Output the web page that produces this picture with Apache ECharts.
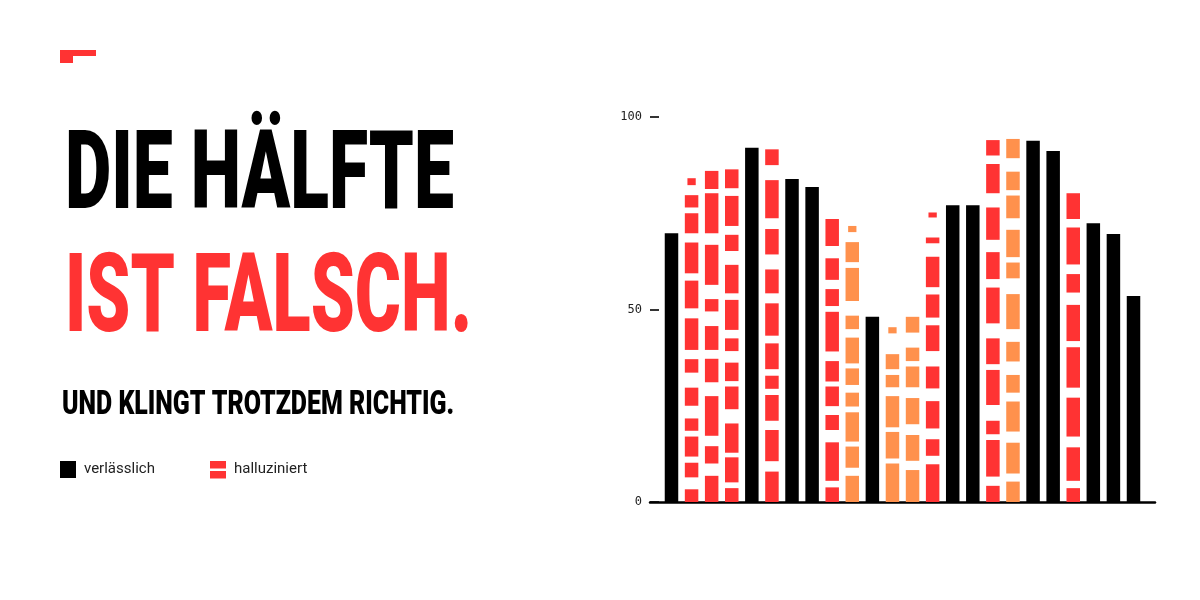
<!DOCTYPE html>
<html>
<head>
<meta charset="utf-8">
<script src="https://cdn.jsdelivr.net/npm/echarts@6/dist/echarts.min.js"></script>
<style>
html,body{margin:0;padding:0;background:#fff;}
#chart{width:1200px;height:600px;}
</style>
</head>
<body>
<div id="chart"></div>
<script>
// ---- data ----
const columnKinds = ['reliable','red','red','red','reliable','red','reliable','reliable','red','orange','reliable','orange','orange','red','reliable','reliable','red','orange','reliable','reliable','red','reliable','reliable','reliable'];
const reliableValues = [69.8, null, null, null, 92.0, null, 83.9, 81.8, null, null, 48.1, null, null, null, 77.1, 77.1, null, null, 93.8, 91.2, null, 72.4, 69.6, 53.5];

const seg1  = [[0,3.3],[6.4,10.2],[11.8,17.0],[18.5,21.7],[25.0,29.7],[33.6,37.1],[39.5,47.7],[50.3,57.5],[59.4,67.4],[69.8,75.0],[76.5,79.7],[82.3,84.1]];
const seg2  = [[0,6.8],[10.0,14.5],[17.2,27.5],[31.1,37.2],[39.5,45.7],[49.5,52.7],[56.4,66.8],[69.8,80.2],[81.3,86.0]];
const seg3  = [[0,3.6],[5.1,11.6],[12.8,20.4],[24.1,30.0],[31.4,36.2],[39.2,42.5],[44.7,52.5],[54.2,61.6],[65.2,69.4],[71.7,79.5],[81.5,86.4]];
const seg5  = [[0,7.9],[10.6,18.7],[21.1,27.8],[29.4,32.8],[34.5,41.2],[43.2,51.6],[54.2,60.4],[64.3,70.9],[73.7,83.6],[87.5,91.6]];
const seg8  = [[0,3.8],[5.5,15.5],[18.7,22.6],[24.9,30.0],[31.3,36.6],[39.1,49.4],[50.9,55.3],[57.7,63.3],[66.5,73.5]];
const seg9  = [[0,6.8],[8.9,14.4],[15.7,23.3],[24.8,28.4],[30.4,34.7],[36.0,42.7],[44.9,48.4],[52.2,60.8],[62.3,67.5],[70.1,71.7]];
const seg11 = [[0,10.0],[11.3,18.2],[19.4,27.5],[29.8,33.0],[34.5,38.4],[43.8,45.4]];
const seg12 = [[0,8.3],[10.7,17.4],[20.2,27.0],[29.8,35.2],[36.6,40.1],[44.0,48.1]];
const seg13 = [[0,9.8],[12.0,16.3],[19.1,26.2],[29.5,35.2],[39.2,45.9],[47.9,53.9],[55.8,63.7],[67.2,68.7],[73.9,75.2]];
const seg16 = [[0,4.2],[6.6,16.1],[17.6,21.1],[25.2,34.3],[35.8,42.5],[46.4,55.7],[57.9,64.9],[68.1,76.5],[80.2,87.8],[90.0,94.0]];
const seg17 = [[0,5.3],[7.4,15.4],[18.3,26.1],[28.4,33.0],[36.5,41.6],[44.9,54.0],[58.1,62.2],[63.6,70.7],[73.7,79.6],[81.0,85.8],[89.3,94.3]];
const seg20 = [[0,3.6],[5.5,14.2],[17.0,27.1],[29.7,40.2],[41.8,51.2],[54.4,59.2],[61.7,71.3],[73.5,80.2]];

const yTicks = [0, 50, 100];
const legendLabels = ['verlässlich', 'halluziniert'];
const titleLine1 = 'DIE HÄLFTE';
const titleLine2 = 'IST FALSCH.';
const subtitle = 'UND KLINGT TROTZDEM RICHTIG.';

// ---- build ----
const segmentColumns = {1: seg1, 2: seg2, 3: seg3, 5: seg5, 8: seg8, 9: seg9, 11: seg11, 12: seg12, 13: seg13, 16: seg16, 17: seg17, 20: seg20};
const RED = '#ff3333', ORANGE = '#ff914d', BLACK = '#000000';

const reliableData = [];
reliableValues.forEach((v, i) => { if (v != null) reliableData.push([i, v]); });

const segmentData = [];
Object.keys(segmentColumns).forEach(k => {
  const i = +k;
  const segs = segmentColumns[k];
  segs.forEach((s, j) => {
    segmentData.push([i, s[0], s[1], columnKinds[i] === 'orange' ? 1 : 0, j === segs.length - 1 ? 1 : 0]);
  });
});

const BAR_W = 13.5;

const chart = echarts.init(document.getElementById('chart'), null, {renderer: 'canvas'});
const option = {
  backgroundColor: '#ffffff',
  animation: false,
  grid: {left: 650, right: 45, top: 117, bottom: 98, containLabel: false, outerBoundsMode: 'none'},
  xAxis: {
    type: 'value', min: -1.07, max: 24.07,
    axisLine: {show: true, onZero: false, lineStyle: {color: '#000', width: 2.5}},
    axisTick: {show: false}, axisLabel: {show: false}, splitLine: {show: false}
  },
  yAxis: {
    type: 'value', min: 0, max: 100, interval: 50,
    axisLine: {show: false, onZero: false},
    axisTick: {show: true, inside: true, length: 9, lineStyle: {color: '#000', width: 1.6}},
    axisLabel: {show: true, margin: 8, color: '#222', fontFamily: 'DejaVu Sans Mono', fontSize: 12,
      formatter: v => (yTicks.indexOf(v) >= 0 ? String(v) : '')},
    splitLine: {show: false}
  },
  series: [
    {
      name: legendLabels[0], type: 'bar', data: reliableData, barWidth: BAR_W,
      itemStyle: {color: BLACK}, z: 2
    },
    {
      name: legendLabels[1], type: 'custom', data: segmentData, z: 2,
      encode: {x: 0, y: [1, 2]},
      renderItem: function (params, api) {
        const x = api.value(0), y0 = api.value(1), y1 = api.value(2);
        const p0 = api.coord([x, y0]);
        const p1 = api.coord([x, y1]);
        const h = p0[1] - p1[1];
        let w = BAR_W;
        if (api.value(4) === 1 && h < 8) w = 8.3;
        return {
          type: 'rect',
          shape: {x: p0[0] - w / 2, y: p1[1], width: w, height: h},
          style: {fill: api.value(3) === 1 ? ORANGE : RED}
        };
      }
    }
  ],
  graphic: [
    {type: 'rect', shape: {x: 60, y: 50, width: 36, height: 6}, style: {fill: RED}},
    {type: 'rect', shape: {x: 60, y: 50, width: 13, height: 13}, style: {fill: RED}},
    {type: 'text', x: 65, y: 125, scaleX: 0.65,
      style: {text: titleLine1, font: '900 110px Roboto', fill: '#000', verticalAlign: 'top'}},
    {type: 'text', x: 65, y: 248, scaleX: 0.641,
      style: {text: titleLine2, font: '900 110px Roboto', fill: RED, verticalAlign: 'top'}},
    {type: 'text', x: 62, y: 388, scaleX: 0.733,
      style: {text: subtitle, font: '900 34px Roboto', fill: '#000', verticalAlign: 'top'}},
    {type: 'rect', shape: {x: 60, y: 461, width: 16, height: 17}, style: {fill: '#000'}},
    {type: 'text', x: 84, y: 469.5,
      style: {text: legendLabels[0], font: '15px Roboto', fill: '#222', verticalAlign: 'middle'}},
    {type: 'rect', shape: {x: 210, y: 461, width: 16, height: 7.5}, style: {fill: RED}},
    {type: 'rect', shape: {x: 210, y: 471, width: 16, height: 7.5}, style: {fill: RED}},
    {type: 'text', x: 234, y: 469.5,
      style: {text: legendLabels[1], font: '15px Roboto', fill: '#222', verticalAlign: 'middle'}}
  ]
};
chart.setOption(option);
</script>
</body>
</html>
